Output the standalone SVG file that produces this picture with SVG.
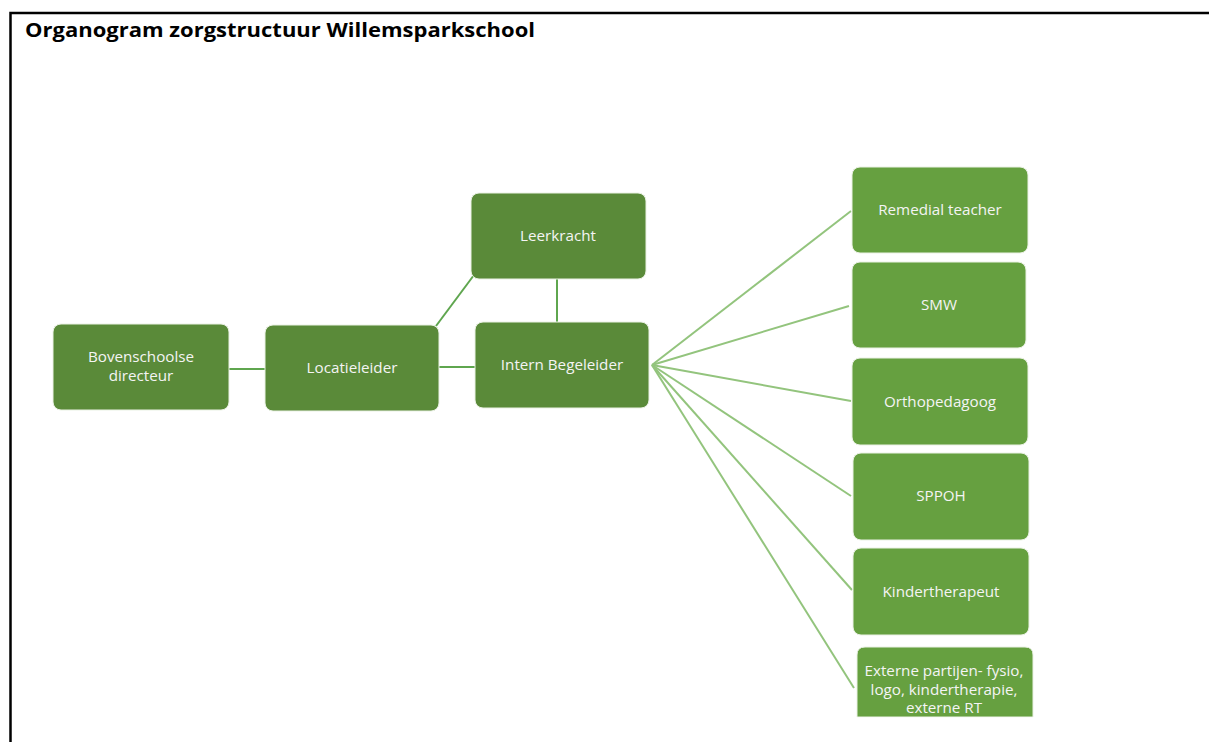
<svg xmlns="http://www.w3.org/2000/svg" width="1209" height="742" viewBox="0 0 1209 742">
<style>
.frame{stroke:#000;stroke-width:2.5;fill:none}
.title{font-family:"Open Sans","Liberation Sans",sans-serif;font-weight:bold;font-size:20px;fill:#000}
.dark{fill:#5A8A39;stroke:#EAF1E4;stroke-width:1}
.light{fill:#66A040;stroke:#EAF1E4;stroke-width:1}
.lbl{font-family:"Open Sans","Liberation Sans",sans-serif;font-size:15.2px;fill:#F4F4F4;text-anchor:middle}
.c1{stroke:#5FA64F;stroke-width:2;fill:none}
.c2{stroke:#93C47D;stroke-width:2;fill:none}
</style>
<rect width="1209" height="742" fill="#fff"/>
<path class="frame" d="M10.5 742 V13 H1209"/>
<text class="title" x="25" y="37" textLength="510" lengthAdjust="spacingAndGlyphs">Organogram zorgstructuur Willemsparkschool</text>
<g id="connectors">
<line class="c1" x1="229" y1="369" x2="265" y2="369"/>
<line class="c1" x1="439" y1="367" x2="480" y2="367"/>
<line class="c1" x1="436" y1="326" x2="474" y2="275"/>
<line class="c1" x1="557" y1="279" x2="557" y2="322"/>
<line class="c2" x1="652" y1="365" x2="851" y2="211"/>
<line class="c2" x1="652" y1="365" x2="849" y2="306"/>
<line class="c2" x1="652" y1="365" x2="851" y2="401"/>
<line class="c2" x1="652" y1="365" x2="851" y2="496"/>
<line class="c2" x1="652" y1="365" x2="852" y2="590"/>
<line class="c2" x1="652" y1="365" x2="854" y2="688"/>
</g>
<g id="bovenschoolse">
<rect class="dark" x="53" y="324" width="176" height="86" rx="8"/>
<text class="lbl" x="141" y="362">Bovenschoolse</text>
<text class="lbl" x="141" y="381">directeur</text>
</g>
<g id="locatieleider">
<rect class="dark" x="265" y="325" width="174" height="86" rx="8"/>
<text class="lbl" x="352" y="373">Locatieleider</text>
</g>
<g id="leerkracht">
<rect class="dark" x="471" y="193" width="175" height="86" rx="8"/>
<text class="lbl" x="558" y="241">Leerkracht</text>
</g>
<g id="intern">
<rect class="dark" x="475" y="322" width="174" height="86" rx="8"/>
<text class="lbl" x="562" y="370">Intern Begeleider</text>
</g>
<g id="remedial">
<rect class="light" x="852" y="167" width="176" height="86" rx="8"/>
<text class="lbl" x="940" y="215">Remedial teacher</text>
</g>
<g id="smw">
<rect class="light" x="852" y="262" width="174" height="86" rx="8"/>
<text class="lbl" x="939" y="310">SMW</text>
</g>
<g id="ortho">
<rect class="light" x="852" y="358" width="176" height="87" rx="8"/>
<text class="lbl" x="940" y="407">Orthopedagoog</text>
</g>
<g id="sppoh">
<rect class="light" x="853" y="453" width="176" height="87" rx="8"/>
<text class="lbl" x="941" y="501">SPPOH</text>
</g>
<g id="kinder">
<rect class="light" x="853" y="548" width="176" height="87" rx="8"/>
<text class="lbl" x="941" y="597">Kindertherapeut</text>
</g>
<g id="externe">
<path class="light" d="M857 717 V655 Q857 647 865 647 H1025 Q1033 647 1033 655 V717 Z"/>
<rect x="855" y="717.5" width="180" height="4" fill="#fff"/>
<text class="lbl" x="944" y="676">Externe partijen- fysio,</text>
<text class="lbl" x="944" y="695">logo, kindertherapie,</text>
<text class="lbl" x="944" y="713">externe RT</text>
</g>
</svg>
